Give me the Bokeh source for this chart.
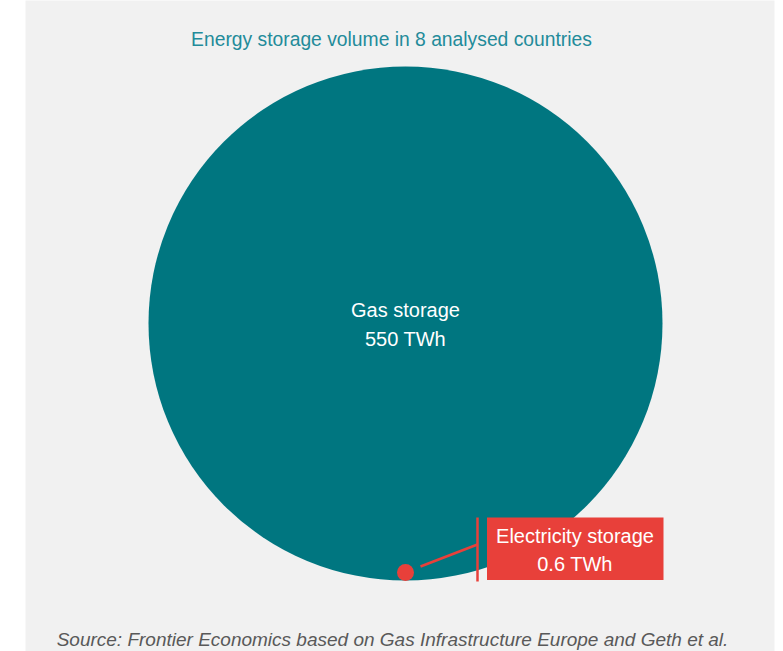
import numpy as np
from bokeh.plotting import figure
from bokeh.models import Range1d
from bokeh.core.properties import value
from bokeh.embed import file_html
from bokeh.resources import INLINE

# ---- data ----
categories = ["Gas storage", "Electricity storage"]
volumes_twh = [550, 0.6]
value_labels = ["550 TWh", "0.6 TWh"]
title_text = "Energy storage volume in 8 analysed countries"
source_text = "Source: Frontier Economics based on Gas Infrastructure Europe and Geth et al."

# ---- styling ----
BG = "#f1f1f1"
TEAL = "#007680"
RED = "#e8403a"
TITLE_C = "#238b9a"
FONT = value("Liberation Sans")
DY = -7.0  # baseline correction

p = figure(width=783, height=651, output_backend="svg", toolbar_location=None,
           x_range=Range1d(25, 774), y_range=Range1d(651, 0),
           min_border_left=25, min_border_right=9, min_border_top=0, min_border_bottom=0)
p.axis.visible = False
p.grid.visible = False
p.outline_line_color = None
p.background_fill_color = BG
p.border_fill_color = "white"

# area-proportional circles
max_r = 257.0
radii = [max_r * np.sqrt(v / max(volumes_twh)) for v in volumes_twh]
cx, cy = 405.0, 323.0
bottom = cy + max_r
centers_y = [cy, bottom - radii[1] + 0.5]

p.circle(x=[cx], y=[centers_y[0]], radius=radii[0], fill_color=TEAL, line_color=None)
p.circle(x=[cx], y=[centers_y[1]], radius=radii[1], fill_color=RED, line_color=None)

# gas label
p.text(x=[cx, cx], y=[316.7 + DY, 345 + DY], text=[categories[0], value_labels[0]],
       text_align="center", text_baseline="alphabetic", text_color="white",
       text_font=FONT, text_font_size="20px")

# leader lines
p.segment(x0=[420, 477], y0=[566, 517], x1=[477, 477], y1=[544, 581],
          line_color=RED, line_width=2.5)

# callout box
p.quad(left=[486.5], right=[663], top=[517], bottom=[579.5], fill_color=RED, line_color=None)
p.text(x=[574.5, 574.5], y=[542.7 + DY, 570.7 + DY], text=[categories[1], value_labels[1]],
       text_align="center", text_baseline="alphabetic", text_color="white",
       text_font=FONT, text_font_size="20px")

# title
p.text(x=[391], y=[45.7 + DY], text=[title_text], text_align="center", text_baseline="alphabetic",
       text_color=TITLE_C, text_font=FONT, text_font_size="19.3px")

# source
p.text(x=[392], y=[646 + DY], text=[source_text], text_align="center", text_baseline="alphabetic",
       text_color="#595959", text_font=FONT, text_font_size="19px", text_font_style="italic")

open("out.html", "w").write(file_html(p, INLINE))
